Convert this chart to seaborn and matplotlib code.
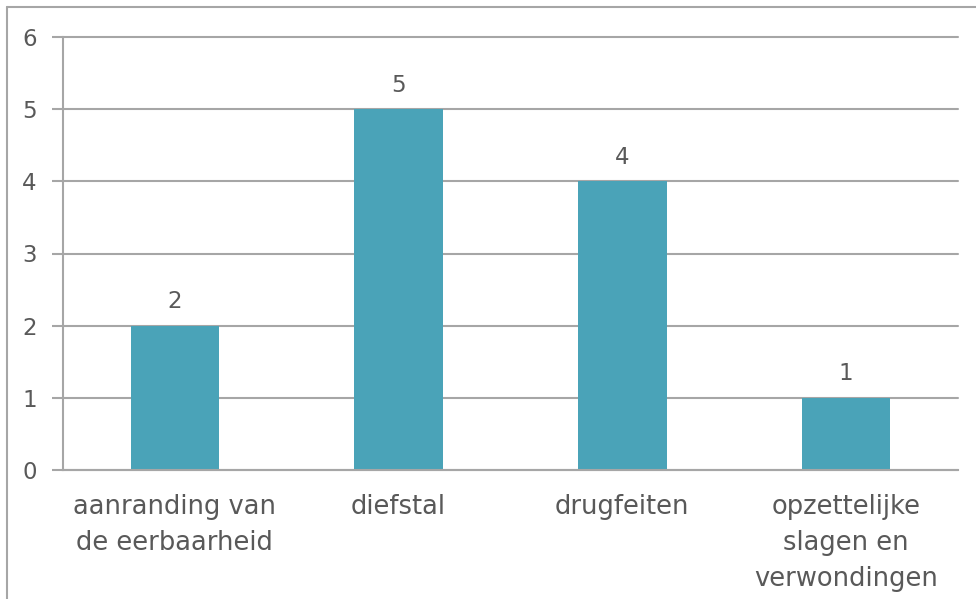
import matplotlib
matplotlib.use("Agg")
import matplotlib.pyplot as plt
from matplotlib.lines import Line2D
import seaborn as sns
import pandas as pd
import numpy as np

# Data
categories = ["aanranding van\nde eerbaarheid", "diefstal", "drugfeiten",
              "opzettelijke\nslagen en\nverwondingen"]
values = [2, 5, 4, 1]
y_ticks = [0, 1, 2, 3, 4, 5, 6]

bar_color = "#4AA3B8"
text_color = "#595959"
grid_color = "#A6A6A6"

sns.set_theme(style="white")
plt.rcParams['font.family'] = ['DejaVu Sans']

df = pd.DataFrame({"categorie": categories, "aantal": values})

fig = plt.figure(figsize=(9.76, 5.99), dpi=100)
ax = fig.add_axes([63 / 976, 129 / 599, (958 - 63) / 976, (470 - 37) / 599])

sns.barplot(data=df, x="categorie", y="aantal", color=bar_color,
            width=0.395, saturation=1, edgecolor="none", linewidth=0, ax=ax)

ax.set_ylim(0, 6)
ax.set_xlim(-0.5, len(categories) - 0.5)
ax.set_yticks(y_ticks)
ax.set_xlabel("")
ax.set_ylabel("")

# gridlines
ax.yaxis.grid(True, color=grid_color, linewidth=1.5)
for gl in ax.get_ygridlines():
    gl.set_clip_on(False)
ax.set_axisbelow(True)

for side in ["top", "right"]:
    ax.spines[side].set_visible(False)
for side in ["left", "bottom"]:
    ax.spines[side].set_color(grid_color)
    ax.spines[side].set_linewidth(1.5)

# category boundaries as ticks, labels in the middle
ax.set_xticks(np.arange(len(categories)))
ax.set_xticklabels(categories, linespacing=1.5, fontsize=18.5, color=text_color)
ax.set_xticks(np.arange(-0.5, len(categories)), minor=True)
ax.tick_params(axis="x", which="major", length=0, pad=17)
ax.tick_params(axis="x", which="minor", length=8, width=1.5, color=grid_color)
ax.tick_params(axis="y", length=8, width=1.5, color=grid_color,
               labelsize=16.5, labelcolor=text_color, pad=11, left=True)

for container in ax.containers:
    ax.bar_label(container, fmt="%d", padding=9, fontsize=16.5, color=text_color)

# outer frame of the chart area
fig.add_artist(Line2D([7 / 976, 7 / 976], [0, 1 - 7 / 599], color=grid_color,
                      linewidth=1.5, transform=fig.transFigure))
fig.add_artist(Line2D([7 / 976, 1], [1 - 7 / 599, 1 - 7 / 599], color=grid_color,
                      linewidth=1.5, transform=fig.transFigure))

fig.savefig("out.png", dpi=100)
